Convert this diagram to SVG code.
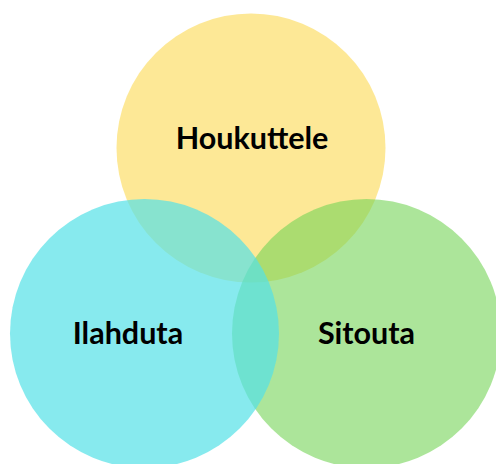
<svg xmlns="http://www.w3.org/2000/svg" width="496" height="464" viewBox="0 0 496 464">
<style>
.t{font-family:Lato,"Liberation Sans",sans-serif;font-weight:bold;font-size:30.5px;fill:#000;text-anchor:middle}
</style>
<rect width="496" height="464" fill="#fff"/>
<g id="houkuttele">
<circle cx="251" cy="148" r="134.5" fill="#FBD12D" fill-opacity="0.5"/>
<text class="t" x="252" y="149">Houkuttele</text>
</g>
<g id="sitouta">
<circle cx="366.5" cy="333.5" r="134.5" fill="#75D457" fill-opacity="0.6"/>
<text class="t" x="366.5" y="344">Sitouta</text>
</g>
<g id="ilahduta">
<circle cx="144.5" cy="333.5" r="134.5" fill="#54E1E7" fill-opacity="0.7"/>
<text class="t" x="128" y="344">Ilahduta</text>
</g>
<g id="connectors"/>
</svg>
